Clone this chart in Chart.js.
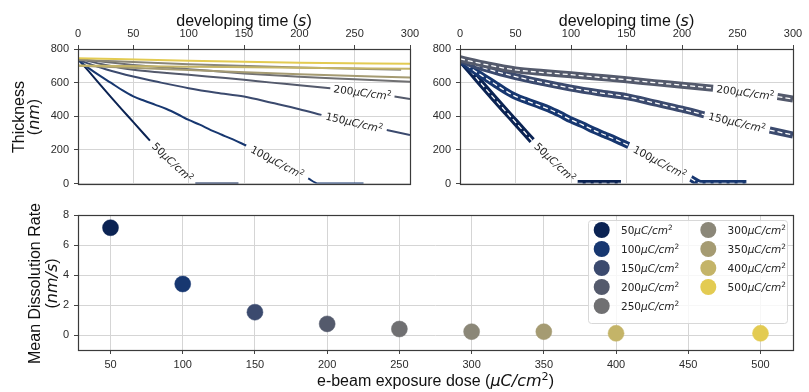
<!DOCTYPE html>
<html>
<head>
<meta charset="utf-8">
<script src="https://cdn.jsdelivr.net/npm/chart.js@4.4.1/dist/chart.umd.min.js"></script>
<style>
html, body { margin: 0; padding: 0; background: #fff; }
#wrap { position: relative; width: 809px; height: 392px; }
#wrap canvas { position: absolute; left: 0; top: 0; }
</style>
</head>
<body>
<div id="wrap">
  <canvas id="cTopLeft" width="809" height="392"></canvas>
  <canvas id="cTopRight" width="809" height="392"></canvas>
  <canvas id="cRate" width="809" height="392"></canvas>
</div>
<script>
// doses and their colours
const doses = [50, 100, 150, 200, 250, 300, 350, 400, 500];
const doseColors = ['#0b2353', '#173770', '#3b4a6e', '#545a6c', '#707072', '#8b8778', '#a59b72', '#c4b468', '#e3cb52'];
const bandDoses = [50, 100, 150, 200];

// tick labels
const timeTicks = [0, 50, 100, 150, 200, 250, 300];
const thicknessTicks = [0, 200, 400, 600, 800];
const doseTicks = [50, 100, 150, 200, 250, 300, 350, 400, 450, 500];
const rateTicks = [0, 2, 4, 6, 8];

// thickness vs developing time (null = where the inline label sits)
const time50 = [0, 10, 20, 30, 40, 50, 65, 85, 106, 145];
const thick50 = [740, 665, 588, 512, 438, 365, 255, null, 0, 0];
const time100 = [0, 10, 20, 30, 40, 50, 60, 70, 80, 90, 100, 110, 120, 130, 140, 152, 180, 208, 217, 258];
const thick100 = [735, 685, 640, 598, 555, 518, 492, 468, 443, 412, 378, 350, 318, 290, 262, 226, null, 30, 0, 0];
const time150 = [0, 25, 50, 75, 100, 125, 150, 175, 200, 220, 250, 279, 300];
const thick150 = [735, 680, 636, 600, 567, 540, 517, 480, 442, 408, null, 318, 288];
const time200 = [0, 25, 50, 75, 100, 125, 150, 175, 200, 228, 257, 286, 300];
const thick200 = [742, 705, 676, 660, 647, 632, 617, 600, 585, 567, null, 517, 503];
const time250 = [0, 50, 100, 150, 200, 250, 300];
const thick250 = [740, 705, 680, 655, 635, 620, 605];
const time300 = [0, 100, 200, 292];
const thick300 = [735, 710, 690, 676];
const time350 = [0, 100, 200, 300];
const thick350 = [700, 675, 650, 630];
const time400 = [0, 100, 200, 300];
const thick400 = [702, 695, 688, 682];
const time500 = [0, 100, 200, 300];
const thick500 = [745, 730, 718, 712];

const timeByDose = [time50, time100, time150, time200, time250, time300, time350, time400, time500];
const thickByDose = [thick50, thick100, thick150, thick200, thick250, thick300, thick350, thick400, thick500];

// mean dissolution rate (nm/s) per dose
const meanRate = [7.15, 3.4, 1.52, 0.74, 0.4, 0.22, 0.22, 0.11, 0.11];

const SANS = '"Liberation Sans", Arial, sans-serif';
const MATH = '"DejaVu Sans", sans-serif';

function drawRuns(ctx, runs, x, y, o) {
    const size = o.size;
    const fontOf = r => (r.italic ? 'italic ' : '') + (r.sup ? size * 0.7 : size) + 'px ' + (r.math ? MATH : SANS);
    let total = 0;
    const widths = runs.map(r => { ctx.font = fontOf(r); const w = ctx.measureText(r.text).width; total += w; return w; });
    ctx.save();
    ctx.translate(x, y);
    ctx.rotate(o.angle || 0);
    ctx.fillStyle = o.color || '#222';
    ctx.textBaseline = 'alphabetic';
    ctx.textAlign = 'left';
    let cx = o.align === 'left' ? 0 : -total / 2;
    const base = o.middle ? size * 0.36 : 0;
    runs.forEach((r, i) => {
        ctx.font = fontOf(r);
        ctx.fillText(r.text, cx, base - (r.sup ? size * 0.38 : 0));
        cx += widths[i];
    });
    ctx.restore();
}

function doseRuns(d) {
    return [{ text: String(d), math: true }, { text: 'μC/cm', math: true, italic: true }, { text: '2', math: true, sup: true }];
}

function pts(i) {
    return timeByDose[i].map((t, k) => ({ x: t, y: thickByDose[i][k] }));
}

const tickFont = { family: SANS, size: 11 };
const gridOpts = { color: '#d5d5d5', lineWidth: 1, tickColor: '#444', tickLength: 4 };

function setTicks(list) {
    return s => { s.ticks = list.map(v => ({ value: v })); };
}

function topScales() {
    return {
        x: {
            type: 'linear', position: 'top', min: 0, max: 300,
            afterBuildTicks: setTicks(timeTicks),
            afterFit: s => { s.height = 20; },
            grid: gridOpts, border: { display: false },
            ticks: { font: tickFont, color: '#2b2b2b', padding: 4, maxRotation: 0 }
        },
        y: {
            type: 'linear', min: 0, max: 800,
            afterBuildTicks: setTicks(thicknessTicks),
            afterFit: s => { s.width = 30; },
            grid: gridOpts, border: { display: false },
            ticks: { font: tickFont, color: '#2b2b2b', padding: 5 }
        }
    };
}

const framePlugin = {
    id: 'frame',
    afterDraw(chart) {
        const a = chart.chartArea, ctx = chart.ctx;
        ctx.save();
        ctx.strokeStyle = '#3a3a3a';
        ctx.lineWidth = 1.2;
        ctx.strokeRect(Math.round(a.left) + 0.5, Math.round(a.top) + 0.5, Math.round(a.right - a.left), Math.round(a.bottom - a.top));
        ctx.restore();
    }
};

const inlineLabels = {
    id: 'inlineLabels',
    afterDatasetsDraw(chart) {
        const ctx = chart.ctx;
        chart.data.datasets.forEach((ds, i) => {
            if (!ds.dose) return;
            const k = ds.data.findIndex(p => p.y === null);
            if (k < 1) return;
            const meta = chart.getDatasetMeta(i);
            const a = meta.data[k - 1], b = meta.data[k + 1];
            drawRuns(ctx, doseRuns(ds.dose), (a.x + b.x) / 2, (a.y + b.y) / 2,
                { size: 10.5, middle: true, angle: Math.atan2(b.y - a.y, b.x - a.x), color: '#222' });
        });
    }
};

function topTitle(chart) {
    const a = chart.chartArea;
    drawRuns(chart.ctx, [{ text: 'developing time (' }, { text: 's', math: true, italic: true }, { text: ')' }],
        (a.left + a.right) / 2, 26, { size: 16, color: '#111' });
}

// ---- top left: every dose as a thin line
new Chart(document.getElementById('cTopLeft'), {
    type: 'line',
    data: {
        datasets: doses.map((d, i) => ({
            data: pts(i),
            dose: bandDoses.includes(d) ? d : null,
            borderColor: doseColors[i],
            borderWidth: 2,
            pointRadius: 0,
            cubicInterpolationMode: 'monotone',
            clip: 0,
            order: doses.length - i
        }))
    },
    options: {
        responsive: false, animation: false, events: [],
        layout: { padding: { left: 48, top: 29, right: 399, bottom: 208.5 } },
        scales: topScales(),
        plugins: { legend: { display: false }, tooltip: { enabled: false } }
    },
    plugins: [framePlugin, inlineLabels, {
        id: 'titlesTL',
        afterDraw(chart) {
            topTitle(chart);
            const ctx = chart.ctx;
            drawRuns(ctx, [{ text: 'Thickness' }], 24, 117, { size: 16, angle: -Math.PI / 2, color: '#111' });
            drawRuns(ctx, [{ text: '(' }, { text: 'nm', math: true, italic: true }, { text: ')' }], 38.6, 117, { size: 16, angle: -Math.PI / 2, color: '#111' });
        }
    }]
});

// ---- top right: doses 50-200 as bands with dashed centre line
const bandSets = [];
bandDoses.forEach(d => {
    const i = doses.indexOf(d);
    bandSets.push({
        data: pts(i), dose: d, borderColor: doseColors[i], borderWidth: 7,
        pointRadius: 0, cubicInterpolationMode: 'monotone', clip: 0, order: 20 - 2 * i
    });
    bandSets.push({
        data: pts(i), borderColor: '#ffffff', borderWidth: 1.3, borderDash: [5, 3],
        pointRadius: 0, cubicInterpolationMode: 'monotone', clip: 0, order: 19 - 2 * i
    });
});

new Chart(document.getElementById('cTopRight'), {
    type: 'line',
    data: { datasets: bandSets },
    options: {
        responsive: false, animation: false, events: [],
        layout: { padding: { left: 430, top: 29, right: 16, bottom: 208.5 } },
        scales: topScales(),
        plugins: { legend: { display: false }, tooltip: { enabled: false } }
    },
    plugins: [framePlugin, inlineLabels, { id: 'titlesTR', afterDraw: topTitle }]
});

// ---- bottom: mean dissolution rate
new Chart(document.getElementById('cRate'), {
    type: 'scatter',
    data: {
        datasets: doses.map((d, i) => ({
            data: [{ x: d, y: meanRate[i] }],
            dose: d,
            backgroundColor: doseColors[i],
            borderColor: doseColors[i],
            borderWidth: 0.5,
            pointRadius: 8
        }))
    },
    options: {
        responsive: false, animation: false, events: [],
        layout: { padding: { left: 48, top: 215, right: 16, bottom: 22 } },
        scales: {
            x: {
                type: 'linear', min: 27.5, max: 522.5,
                afterBuildTicks: setTicks(doseTicks),
                afterFit: s => { s.height = 20; },
                grid: gridOpts, border: { display: false },
                ticks: { font: tickFont, color: '#2b2b2b', padding: 4, maxRotation: 0 }
            },
            y: {
                type: 'linear', min: -1, max: 8,
                afterBuildTicks: setTicks(rateTicks),
                afterFit: s => { s.width = 30; },
                grid: gridOpts, border: { display: false },
                ticks: { font: tickFont, color: '#2b2b2b', padding: 5 }
            }
        },
        plugins: { legend: { display: false }, tooltip: { enabled: false } }
    },
    plugins: [framePlugin, {
        id: 'rateExtras',
        afterDraw(chart) {
            const ctx = chart.ctx, a = chart.chartArea;
            // legend box
            const bx = a.right - 205, by = a.top + 5, bw = 199, bh = 103;
            ctx.save();
            ctx.fillStyle = 'rgba(255,255,255,0.8)';
            ctx.strokeStyle = '#d8d8d8';
            ctx.lineWidth = 1;
            ctx.beginPath();
            ctx.roundRect(bx + 0.5, by + 0.5, bw, bh, 3);
            ctx.fill();
            ctx.stroke();
            chart.data.datasets.forEach((ds, i) => {
                const col = i < 5 ? 0 : 1, row = i % 5;
                const mx = bx + 13.7 + col * 106.6, my = by + 10 + row * 19;
                ctx.fillStyle = ds.backgroundColor;
                ctx.beginPath();
                ctx.arc(mx, my, 8, 0, Math.PI * 2);
                ctx.fill();
                drawRuns(ctx, doseRuns(ds.dose), mx + 19.3, my, { size: 10.5, middle: true, align: 'left', color: '#222' });
            });
            ctx.restore();
            // axis titles
            drawRuns(ctx, [{ text: 'e-beam exposure dose (' }, { text: 'μC/cm', math: true, italic: true }, { text: '2', math: true, sup: true }, { text: ')' }],
                (a.left + a.right) / 2, 386, { size: 16, color: '#111' });
            const cy = (a.top + a.bottom) / 2 + 1;
            drawRuns(ctx, [{ text: 'Mean Dissolution Rate' }], 40, cy, { size: 16, angle: -Math.PI / 2, color: '#111' });
            drawRuns(ctx, [{ text: '(' }, { text: 'nm/s', math: true, italic: true }, { text: ')' }], 57, cy, { size: 16, angle: -Math.PI / 2, color: '#111' });
        }
    }]
});
</script>
</body>
</html>
